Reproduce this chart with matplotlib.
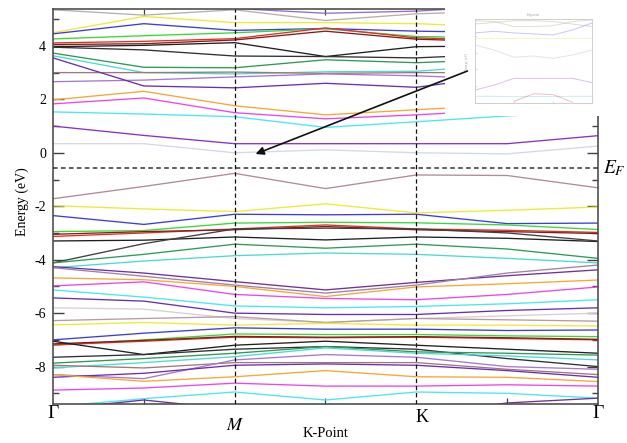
"""Band structure along Gamma-M-K-Gamma with a faded inset in the corner."""

import numpy as np
import matplotlib
matplotlib.use("Agg")
import matplotlib.pyplot as plt
from matplotlib.patches import Rectangle, FancyArrowPatch

plt.rcParams["font.family"] = "serif"
plt.rcParams["font.serif"] = ["Liberation Serif", "DejaVu Serif"]
plt.rcParams["mathtext.fontset"] = "stix"
plt.rcParams["axes.unicode_minus"] = False

# ---- data -------------------------------------------------------------
# k positions: Gamma, half, M, half, K, half, Gamma
kpath = [0.0, 0.5, 1.0, 1.5, 2.0, 2.5, 3.0]
kpoint_pos = [0.0, 1.0, 2.0, 3.0]
kpoint_labels = ["Γ", "$M$", "K", "Γ"]
e_fermi = -0.56

# conduction bands (eV) read at the 7 k positions
cond_bands = [
    [5.50, 5.50, 5.40, 5.22, 5.30, 5.50, 5.50],
    [5.35, 5.15, 5.35, 4.95, 5.20, 5.30, 5.35],
    [4.49, 5.10, 4.87, 4.87, 4.83, 4.70, 4.49],
    [4.45, 4.83, 4.58, 4.65, 4.55, 4.50, 4.45],
    [4.26, 4.38, 4.49, 4.64, 4.35, 4.30, 4.26],
    [4.11, 4.17, 4.27, 4.67, 4.30, 4.20, 4.11],
    [4.05, 4.08, 4.22, 4.55, 4.25, 4.15, 4.05],
    [3.97, 4.02, 4.12, 3.60, 3.97, 4.00, 3.97],
    [3.95, 3.85, 3.62, 3.60, 3.55, 3.70, 3.95],
    [3.73, 3.20, 3.18, 3.48, 3.37, 3.50, 3.73],
    [3.63, 3.00, 2.95, 3.03, 3.05, 3.30, 3.63],
    [3.00, 3.00, 3.02, 2.97, 3.00, 3.00, 3.00],
    [2.66, 2.72, 2.84, 2.95, 2.88, 2.75, 2.66],
    [3.55, 2.50, 2.43, 2.60, 2.45, 2.90, 3.55],
    [1.98, 2.30, 1.76, 1.42, 1.61, 1.80, 1.98],
    [1.83, 2.05, 1.50, 1.27, 1.42, 1.60, 1.83],
    [1.53, 1.45, 1.35, 0.95, 1.16, 1.38, 1.53],
    [1.00, 0.65, 0.34, 0.34, 0.34, 0.34, 0.64],
    [0.34, 0.34, 0.00, 0.11, 0.00, -0.04, 0.25],
]
cond_colors = ["#9a6cc8", "#b8aeb0", "#ecec30", "#3c3ce0", "#33dd33", "#e03028",
               "#8b1a1a", "#202020", "#303030", "#2e9a55", "#48dcd0", "#a07878",
               "#a878d0", "#6a2fb0", "#f5a832", "#ee44ee", "#48e8f0", "#8a30c8",
               "#d4d8e4"]

# valence bands (eV)
val_bands = [
    [-1.72, -1.26, -0.77, -1.34, -0.83, -0.85, -1.31],
    [-1.98, -2.10, -2.20, -1.91, -2.25, -2.15, -2.03],
    [-2.35, -2.68, -2.30, -2.32, -2.30, -2.65, -2.63],
    [-2.95, -2.91, -2.63, -2.60, -2.62, -2.70, -2.87],
    [-3.13, -3.00, -2.85, -2.70, -2.85, -2.90, -2.98],
    [-3.05, -2.95, -2.88, -2.76, -2.88, -2.95, -3.02],
    [-3.30, -3.27, -3.15, -3.26, -3.15, -3.20, -3.32],
    [-4.12, -3.40, -2.85, -2.82, -2.85, -3.00, -3.30],
    [-4.12, -3.80, -3.42, -3.57, -3.42, -3.60, -3.95],
    [-4.30, -4.05, -3.85, -3.75, -3.80, -3.95, -4.12],
    [-4.26, -4.50, -4.82, -5.13, -4.85, -4.60, -4.38],
    [-4.30, -4.62, -4.95, -5.25, -4.95, -4.50, -4.20],
    [-4.68, -4.75, -5.00, -5.38, -5.02, -4.90, -4.76],
    [-4.98, -4.83, -5.30, -5.45, -5.50, -5.30, -5.02],
    [-5.13, -5.40, -5.73, -5.80, -5.75, -5.65, -5.50],
    [-5.43, -5.55, -6.00, -6.05, -6.05, -5.90, -5.80],
    [-5.80, -5.85, -6.20, -6.35, -6.20, -6.10, -6.00],
    [-6.28, -6.20, -6.13, -6.35, -6.20, -6.25, -6.30],
    [-6.44, -6.35, -6.45, -6.38, -6.45, -6.45, -6.48],
    [-7.00, -6.75, -6.55, -6.60, -6.60, -6.65, -6.63],
    [-7.20, -7.00, -6.78, -6.80, -6.80, -6.85, -6.88],
    [-7.19, -7.05, -6.90, -6.92, -6.90, -6.95, -7.00],
    [-7.15, -7.02, -6.87, -6.90, -6.88, -6.92, -6.98],
    [-7.05, -7.55, -7.20, -7.05, -7.20, -7.35, -7.50],
    [-7.65, -7.55, -7.35, -7.25, -7.35, -7.70, -8.00],
    [-7.87, -7.70, -7.50, -7.25, -7.45, -7.50, -7.57],
    [-8.05, -7.85, -7.63, -7.30, -7.50, -7.60, -7.75],
    [-7.95, -8.05, -7.85, -7.85, -7.85, -8.10, -8.30],
    [-8.30, -8.45, -7.75, -7.55, -7.65, -8.00, -8.10],
    [-8.40, -8.25, -7.95, -7.90, -7.95, -8.15, -8.40],
    [-8.30, -8.55, -8.38, -8.15, -8.38, -8.40, -8.56],
    [-8.88, -8.80, -8.62, -8.73, -8.73, -8.68, -8.73],
    [-9.50, -9.20, -8.95, -9.25, -8.95, -9.00, -9.18],
    [-9.60, -9.25, -9.60, -9.80, -9.80, -9.36, -9.18],
]
val_colors = ["#b08c98", "#ecec30", "#3c3ce0", "#33dd33", "#e03028", "#8b1a1a",
              "#202020", "#404040", "#2e9a55", "#48dcd0", "#7030a0", "#a080a8",
              "#f5a832", "#ee44ee", "#48e8f0", "#6a2fb0", "#d8d0d0", "#b89aa8",
              "#ecec30", "#3c3ce0", "#33dd33", "#e03028", "#8b1a1a", "#202020",
              "#303030", "#2e9a55", "#48dcd0", "#a07880", "#a878d0", "#6a2fb0",
              "#f5a832", "#ee44ee", "#48e8f0", "#7030a0"]

# faded inset bands (inset units)
inset_k = [0.0, 0.5, 1.0, 1.5, 2.0, 2.5, 3.0]
inset_bands = [
    [4.90, 4.85, 4.55, 4.55, 4.60, 4.85, 4.95],
    [4.70, 4.80, 4.90, 4.90, 4.85, 4.70, 4.55],
    [4.17, 4.27, 4.17, 4.11, 4.05, 4.35, 4.76],
    [3.85, 3.85, 3.85, 3.85, 3.85, 3.85, 3.85],
    [3.45, 3.15, 2.72, 2.80, 2.66, 2.86, 3.15],
    [0.77, 1.07, 1.47, 1.47, 1.47, 1.47, 1.21],
    [0.40, 0.40, 0.38, 0.38, 0.38, 0.40, 0.40],
    [np.nan, np.nan, 0.10, 0.55, 0.50, 0.05, np.nan],
]
inset_colors = ["#b0a080", "#a09890", "#6060e0", "#e8e060", "#b0b0b0",
                "#b040c0", "#60d0e0", "#e04060"]

# ---- figure -----------------------------------------------------------
fig = plt.figure(figsize=(6.27, 4.43), dpi=100)
ax = fig.add_axes([0.0845, 0.088, 0.8692, 0.8917])

for e, c in zip(cond_bands + val_bands, cond_colors + val_colors):
    ax.plot(kpath, e, color=c, lw=0.95, zorder=2)

ax.axhline(e_fermi, color="#333333", ls=(0, (3, 2.2)), lw=1.1, zorder=3)
for kp in kpoint_pos[1:3]:
    ax.axvline(kp, color="#111111", ls=(0, (3.5, 2.2)), lw=0.9, zorder=3)

ax.set_xlim(0, 3)
ax.set_ylim(-9.4, 5.38)
ax.set_yticks(np.arange(-8, 5, 2))
ax.set_yticks(np.arange(-9, 6, 1), minor=True)
ax.set_xticks([0.5, 1.5, 2.5])
ax.set_xticklabels([])
ax.tick_params(axis="y", which="major", direction="in", length=8, width=1.0,
               right=True, labelsize=10, pad=5, color="#404040")
ax.tick_params(axis="y", which="minor", direction="in", length=4.5, width=1.0,
               right=True, color="#404040")
ax.tick_params(axis="x", which="major", direction="in", length=4, width=0.9,
               top=True, color="#404040")
for sp in ax.spines.values():
    sp.set_color("#505050")
    sp.set_linewidth(1.2)

trans = ax.get_xaxis_transform()
ax.text(0.0, -0.025, "Γ", transform=trans, ha="center", va="center", fontsize=14)
ax.text(1.0, -0.054, "$M$", transform=trans, ha="center", va="center", fontsize=13)
ax.text(2.03, -0.033, "K", transform=trans, ha="center", va="center", fontsize=13)
ax.text(3.0, -0.025, "Γ", transform=trans, ha="center", va="center", fontsize=14)
ax.text(1.5, -0.074, "K-Point", transform=trans, ha="center", va="center", fontsize=10.5)
ax.text(3.025, e_fermi, "$E_F$", ha="left", va="center", fontsize=14, clip_on=False)
fig.text(22 / 627, 1 - 202 / 443, "Energy (eV)", rotation=90, ha="center",
         va="center", fontsize=10)

# white patch with the faded inset picture on top of the main plot
fig.add_artist(Rectangle((445 / 627, 1 - 116 / 443), 182 / 627, 116 / 443,
                         transform=fig.transFigure, facecolor="white",
                         edgecolor="none", zorder=5))
axi = fig.add_axes([475 / 627, 1 - 103 / 443, 117 / 627, 84 / 443], zorder=6)
for e, c in zip(inset_bands, inset_colors):
    axi.plot(inset_k, e, color=c, lw=0.7, alpha=0.35)
axi.set_xlim(0, 3)
axi.set_ylim(0, 5)
axi.set_xticks([1, 2])
axi.set_yticks([1, 2, 3, 4])
axi.set_xticklabels([])
axi.set_yticklabels([])
axi.tick_params(direction="in", length=1.5, width=0.4, color="#c0c0c0")
for sp in axi.spines.values():
    sp.set_color("#c8c8c8")
    sp.set_linewidth(0.6)
axi.set_title("K-point", fontsize=3, color="#a0a0a0", pad=2)
axi.set_ylabel("Energy (eV)", fontsize=2.5, color="#a0a0a0", labelpad=1)

arrow = FancyArrowPatch((470 / 627, 1 - 70 / 443), (253 / 627, 1 - 155 / 443),
                        transform=fig.transFigure, arrowstyle="-|>",
                        mutation_scale=12, lw=1.2, color="#111111", zorder=8)
fig.add_artist(arrow)

fig.savefig("out.png", dpi=100)
plt.close(fig)
